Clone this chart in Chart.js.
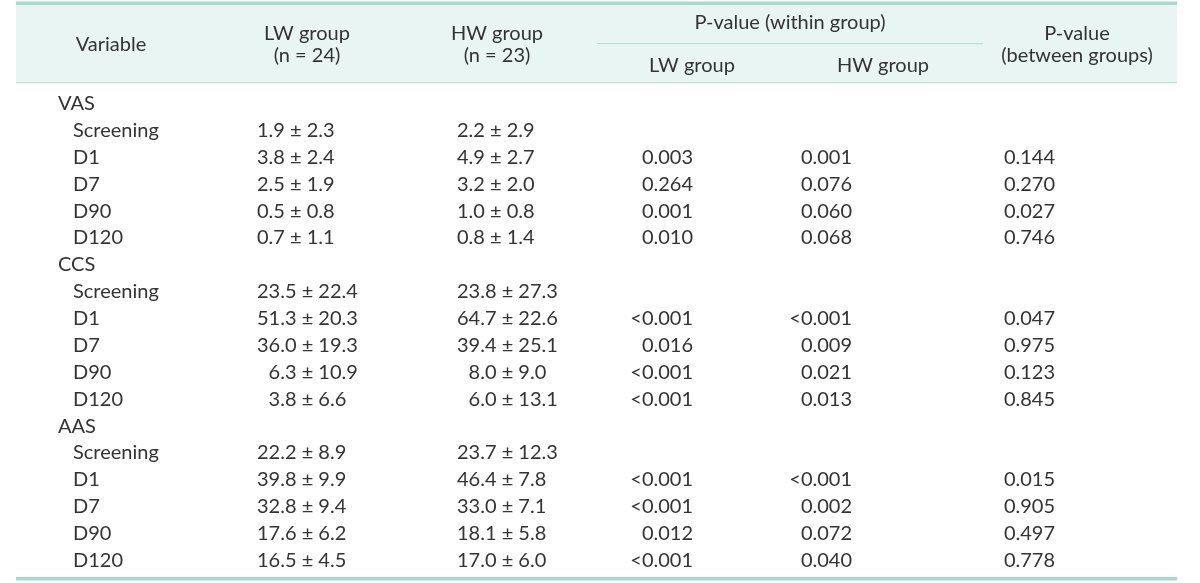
<!DOCTYPE html>
<html><head><meta charset="utf-8">
<script src="https://cdn.jsdelivr.net/npm/chart.js@4"></script>
<style>html,body{margin:0;padding:0;background:#fff}#wrap{width:1200px;height:583px;position:relative}</style>
</head><body><div id="wrap"><canvas id="c"></canvas></div>
<script>
// ---- data ----
const variables = ['VAS', 'CCS', 'AAS'];
const timepoints = ['Screening', 'D1', 'D7', 'D90', 'D120'];
const lwMean = [[1.9, 3.8, 2.5, 0.5, 0.7], [23.5, 51.3, 36.0, 6.3, 3.8], [22.2, 39.8, 32.8, 17.6, 16.5]];
const lwSD   = [[2.3, 2.4, 1.9, 0.8, 1.1], [22.4, 20.3, 19.3, 10.9, 6.6], [8.9, 9.9, 9.4, 6.2, 4.5]];
const hwMean = [[2.2, 4.9, 3.2, 1.0, 0.8], [23.8, 64.7, 39.4, 8.0, 6.0], [23.7, 46.4, 33.0, 18.1, 17.0]];
const hwSD   = [[2.9, 2.7, 2.0, 0.8, 1.4], [27.3, 22.6, 25.1, 9.0, 13.1], [12.3, 7.8, 7.1, 5.8, 6.0]];
const pWithinLW = [[null, '0.003', '0.264', '0.001', '0.010'], [null, '<0.001', '0.016', '<0.001', '<0.001'], [null, '<0.001', '<0.001', '0.012', '<0.001']];
const pWithinHW = [[null, '0.001', '0.076', '0.060', '0.068'], [null, '<0.001', '0.009', '0.021', '0.013'], [null, '<0.001', '0.002', '0.072', '0.040']];
const pBetween  = [[null, '0.144', '0.270', '0.027', '0.746'], [null, '0.047', '0.975', '0.123', '0.845'], [null, '0.015', '0.905', '0.497', '0.778']];
const headers = {
  variable: 'Variable',
  lw: ['LW group', '(n = 24)'],
  hw: ['HW group', '(n = 23)'],
  within: 'P-value (within group)',
  withinLW: 'LW group',
  withinHW: 'HW group',
  between: ['P-value', '(between groups)']
};

// ---- build rows ----
const rowKeys = [];
const rows = [];
variables.forEach((v, gi) => {
  rowKeys.push(v);
  rows.push({label: v, group: true});
  const lwDigits = Math.max(...lwMean[gi].map(m => String(Math.floor(m)).length));
  const hwDigits = Math.max(...hwMean[gi].map(m => String(Math.floor(m)).length));
  timepoints.forEach((t, ti) => {
    rowKeys.push(v + ':' + t);
    rows.push({
      label: t, group: false,
      lw: [lwMean[gi][ti], lwSD[gi][ti], lwDigits],
      hw: [hwMean[gi][ti], hwSD[gi][ti], hwDigits],
      pl: pWithinLW[gi][ti], ph: pWithinHW[gi][ti], pb: pBetween[gi][ti]
    });
  });
});

// ---- layout (pixel units on the x scale) ----
const layoutCfg = {
  font: '20px Lato',
  color: '#333333',
  groupX: 58, itemX: 73,
  lwLeft: 257, hwLeft: 457,
  plRight: 693, phRight: 852, pbRight: 1055,
  tableLeft: 16, tableRight: 1177,
  teal: '#a7d9cc', headBg: '#e9f5f2', thin: '#b9dfd5'
};

const tablePlugin = {
  id: 'table',
  beforeDraw(chart) {
    const ctx = chart.ctx, x = chart.scales.x, L = layoutCfg;
    const l = x.getPixelForValue(L.tableLeft), r = x.getPixelForValue(L.tableRight);
    ctx.save();
    ctx.fillStyle = '#fff';
    ctx.fillRect(0, 0, chart.width, chart.height);
    ctx.fillStyle = L.headBg;
    ctx.fillRect(l, 4, r - l, 78);
    ctx.fillStyle = L.teal;
    ctx.fillRect(l, 1.5, r - l, 3.5);
    ctx.fillRect(l, 577, r - l, 3.5);
    ctx.fillStyle = L.thin;
    ctx.fillRect(l, 82, r - l, 1.2);
    ctx.fillRect(x.getPixelForValue(597), 43, x.getPixelForValue(983) - x.getPixelForValue(597), 1.2);
    // header text
    ctx.fillStyle = L.color;
    ctx.font = L.font;
    ctx.textBaseline = 'alphabetic';
    ctx.textAlign = 'center';
    ctx.fillText(headers.variable, x.getPixelForValue(111), 51);
    ctx.fillText(headers.lw[0], x.getPixelForValue(307), 40);
    ctx.fillText(headers.lw[1], x.getPixelForValue(307), 62);
    ctx.fillText(headers.hw[0], x.getPixelForValue(497), 40);
    ctx.fillText(headers.hw[1], x.getPixelForValue(497), 62);
    ctx.fillText(headers.within, x.getPixelForValue(790), 29);
    ctx.fillText(headers.withinLW, x.getPixelForValue(692), 72);
    ctx.fillText(headers.withinHW, x.getPixelForValue(883), 72);
    ctx.fillText(headers.between[0], x.getPixelForValue(1077), 40);
    ctx.fillText(headers.between[1], x.getPixelForValue(1077), 62);
    ctx.restore();
  },
  afterDraw(chart) {
    const ctx = chart.ctx, x = chart.scales.x, y = chart.scales.y, L = layoutCfg;
    ctx.save();
    ctx.fillStyle = L.color;
    ctx.font = L.font;
    ctx.textBaseline = 'alphabetic';
    const off = 6;
    const dw = ctx.measureText('0').width;
    rows.forEach((row, i) => {
      const py = y.getPixelForValue(i) + off;
      ctx.textAlign = 'left';
      if (row.group) {
        ctx.fillText(row.label, x.getPixelForValue(L.groupX), py);
        return;
      }
      ctx.fillText(row.label, x.getPixelForValue(L.itemX), py);
      [[row.lw, L.lwLeft], [row.hw, L.hwLeft]].forEach(([v, a]) => {
        const pad = (v[2] - String(Math.floor(v[0])).length) * dw;
        ctx.fillText(v[0].toFixed(1) + ' \u00b1 ' + v[1].toFixed(1), x.getPixelForValue(a) + pad, py);
      });
      ctx.textAlign = 'right';
      [[row.pl, L.plRight], [row.ph, L.phRight], [row.pb, L.pbRight]].forEach(([p, a]) => {
        if (p !== null) ctx.fillText(p, x.getPixelForValue(a), py);
      });
    });
    ctx.restore();
  }
};

new Chart(document.getElementById('c'), {
  type: 'scatter',
  data: { labels: rowKeys, datasets: [{ data: [], pointRadius: 0 }] },
  options: {
    responsive: true, maintainAspectRatio: false, animation: false,
    layout: { padding: { top: 90.6, bottom: 8.6, left: 0, right: 0 } },
    plugins: { legend: { display: false }, tooltip: { enabled: false } },
    scales: {
      x: { type: 'linear', min: 0, max: 1200, display: false },
      y: { type: 'category', labels: rowKeys, offset: true, display: false }
    }
  },
  plugins: [tablePlugin]
});
</script>
</body></html>
